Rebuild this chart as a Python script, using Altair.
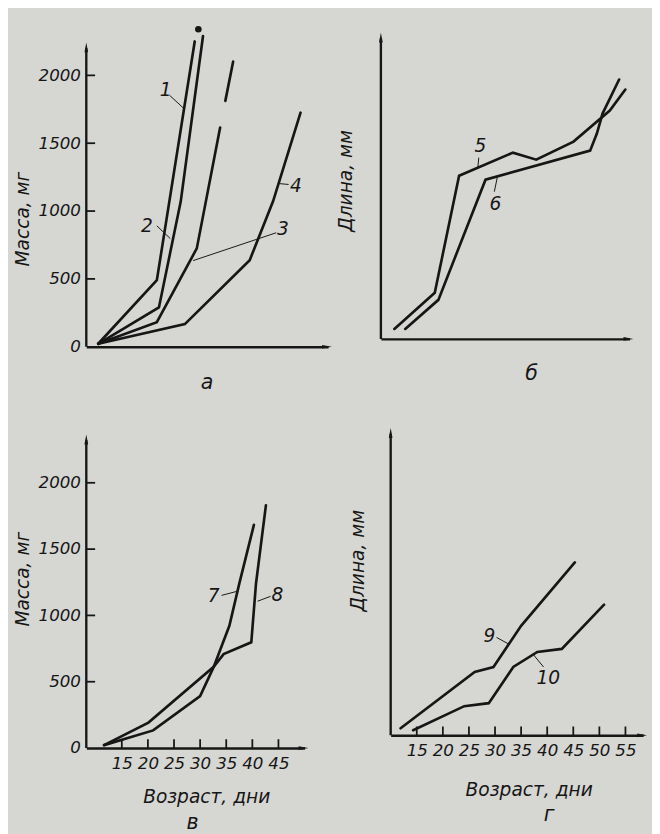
import altair as alt
import pandas as pd

INK = "#161616"
BG = "#d6d6d3"
FONT = "DejaVu Sans"

# ---------------- Panel а: масса, мг (days on X, unlabeled) ----------------
a1_x = [10.3, 21.6, 28.9]
a1_y = [22, 490, 2250]
a2_x = [10.3, 22.0, 26.2, 30.5]
a2_y = [22, 290, 1070, 2290]
a3_x = [10.3, 21.6, 29.3, 33.8]
a3_y = [22, 181, 725, 1616]
a3b_x = [34.8, 36.3]
a3b_y = [1812, 2101]
a4_x = [10.3, 27.0, 39.5, 44.0, 49.3]
a4_y = [22, 167, 638, 1072, 1725]
a_dot_x = [29.6]
a_dot_y = [2340]
a_lab_text = ["1", "2", "3", "4"]
a_lab_x = [23.3, 19.7, 45.9, 48.4]
a_lab_y = [1891, 891, 870, 1181]
a_ld_x = [24.0, 21.6, 44.6, 47.0]
a_ld_y = [1855, 891, 840, 1196]
a_ld_x2 = [26.7, 24.2, 28.6, 45.0]
a_ld_y2 = [1760, 797, 635, 1203]

# ---------------- Panel б: длина, мм ----------------
b5_x = [10.6, 18.4, 23.1, 33.5, 38.0, 45.2, 52.2, 55.2]
b5_y = [1.0, 4.6, 16.3, 18.6, 17.9, 19.7, 22.8, 24.9]
b6_x = [12.7, 19.1, 28.2, 48.4, 49.7, 50.8, 54.0]
b6_y = [1.0, 3.9, 15.9, 18.8, 20.5, 22.5, 25.9]
b_lab_text = ["5", "6"]
b_lab_x = [27.2, 30.1]
b_lab_y = [19.2, 13.5]
b_ld_x = [26.9, 29.9]
b_ld_y = [18.1, 14.7]
b_ld_x2 = [26.7, 30.5]
b_ld_y2 = [17.0, 16.2]

# ---------------- Panel в: масса, мг по возрасту ----------------
v7_x = [11.6, 21.0, 30.0, 32.6, 35.6, 37.5, 40.3]
v7_y = [22, 133, 391, 612, 922, 1240, 1683]
v8_x = [11.6, 20.1, 32.6, 34.5, 39.8, 40.7, 42.6]
v8_y = [22, 192, 612, 708, 797, 1240, 1830]
v_lab_text = ["7", "8"]
v_lab_x = [32.6, 44.8]
v_lab_y = [1144, 1151]
v_ld_x = [34.1, 43.5]
v_ld_y = [1151, 1144]
v_ld_x2 = [37.0, 41.0]
v_ld_y2 = [1181, 1107]
v_xticks = [15, 20, 25, 30, 35, 40, 45]

# ---------------- Panel г: длина, мм по возрасту ----------------
g9_x = [11.9, 26.1, 29.7, 35.0, 45.3]
g9_y = [0.7, 6.3, 6.8, 10.9, 17.2]
g10_x = [14.3, 24.1, 28.8, 33.5, 38.1, 42.8, 50.9]
g10_y = [0.5, 2.9, 3.2, 6.8, 8.3, 8.6, 13.0]
g_lab_text = ["9", "10"]
g_lab_x = [28.9, 40.2]
g_lab_y = [9.9, 5.7]
g_ld_x = [30.3, 39.3]
g_ld_y = [9.74, 6.8]
g_ld_x2 = [32.7, 37.4]
g_ld_y2 = [9.06, 8.0]
g_xticks = [15, 20, 25, 30, 35, 40, 45, 50, 55]

mass_ticks = [0, 500, 1000, 1500, 2000]
mass_inner = [500, 1000, 1500, 2000]


def series_df(series):
    rows = []
    for name, xs, ys in series:
        for i, (x, y) in enumerate(zip(xs, ys)):
            rows.append({"s": name, "i": i, "x": x, "y": y})
    return pd.DataFrame(rows)


def panel(series, lab, ld, xdom, ydom, ytop, W, H, letter, letter_dx, letter_off,
          ytitle, ytitle_pad, ytitle_y, ylabels=None, yinner=None,
          xtitle=None, xticks=None, xtitle_pad=10, xtitle_dx=0, dots=None):
    xsc = alt.Scale(domain=xdom, nice=False, zero=False)
    ysc = alt.Scale(domain=ydom, nice=False, zero=False)
    xa = dict(grid=False, ticks=False, domainColor=INK, domainWidth=2.4)
    if xticks:
        xa.update(values=xticks, labels=True, labelPadding=8, labelFontSize=17,
                  title=xtitle, titlePadding=xtitle_pad, titleFontSize=19,
                  titleX=W / 2 + xtitle_dx)
    else:
        xa.update(labels=False, title=None)
    ya = dict(grid=False, ticks=False, domain=False,
              title=ytitle, titleFontSize=19, titlePadding=ytitle_pad,
              titleY=ytitle_y)
    if ylabels:
        ya.update(values=ylabels, labels=True, labelPadding=6, labelFontSize=17,
                  format="d")
    else:
        ya.update(labels=False)
    xaxis = alt.Axis(**xa)
    yaxis = alt.Axis(**ya)
    X = lambda f="x": alt.X(f"{f}:Q", scale=xsc, axis=xaxis)
    Y = lambda f="y": alt.Y(f"{f}:Q", scale=ysc, axis=yaxis)

    lines = alt.Chart(series_df(series)).mark_line(
        color=INK, strokeWidth=2.7, strokeJoin="miter", strokeCap="round"
    ).encode(x=X(), y=Y(), detail="s:N", order="i:Q")
    layers = [lines]

    # vertical axis line with arrow
    ax = pd.DataFrame({"y": [0], "y2": [ytop]})
    layers.append(alt.Chart(ax).mark_rule(color=INK, strokeWidth=2.4).encode(
        x=alt.value(0), y=Y(), y2="y2:Q"))

    ldf = pd.DataFrame({"x": ld[0], "y": ld[1], "x2": ld[2], "y2": ld[3]})
    layers.append(alt.Chart(ldf).mark_rule(color=INK, strokeWidth=1).encode(
        x=X(), y=Y(), x2="x2:Q", y2="y2:Q"))
    tdf = pd.DataFrame({"x": lab[1], "y": lab[2], "t": lab[0]})
    layers.append(alt.Chart(tdf).mark_text(
        font=FONT, fontSize=19, fontStyle="italic", color=INK
    ).encode(x=X(), y=Y(), text="t:N"))

    if yinner:
        layers.append(alt.Chart(pd.DataFrame({"y": yinner})).mark_rule(
            color=INK, strokeWidth=1.8).encode(
            y=Y(), x=alt.value(0), x2=alt.value(9)))
    if xticks:
        layers.append(alt.Chart(pd.DataFrame({"x": xticks})).mark_rule(
            color=INK, strokeWidth=1.8).encode(
            x=X(), y=alt.value(H), y2=alt.value(H - 9)))
    if dots:
        layers.append(alt.Chart(pd.DataFrame({"x": dots[0], "y": dots[1]})).mark_point(
            filled=True, color=INK, size=45, opacity=1).encode(x=X(), y=Y()))

    layers.append(alt.Chart(pd.DataFrame({"y": [ytop]})).mark_point(
        shape="M0,-1L0.32,0.7L-0.32,0.7Z", filled=True, color=INK, size=140, opacity=1
    ).encode(x=alt.value(0), y=Y()))
    layers.append(alt.Chart(pd.DataFrame({"y": [0]})).mark_point(
        shape="M1,0L-0.7,0.32L-0.7,-0.32Z", filled=True, color=INK, size=140, opacity=1
    ).encode(x=alt.value(W - 2), y=Y()))

    return alt.layer(*layers).properties(
        width=W, height=H,
        title=alt.TitleParams(text=letter, orient="bottom", font=FONT, fontSize=21,
                              fontStyle="italic", fontWeight="normal", color=INK,
                              dx=letter_dx, offset=letter_off),
    )


pa = panel([("1", a1_x, a1_y), ("2", a2_x, a2_y), ("3", a3_x, a3_y),
            ("3b", a3b_x, a3b_y), ("4", a4_x, a4_y)],
           (a_lab_text, a_lab_x, a_lab_y), (a_ld_x, a_ld_y, a_ld_x2, a_ld_y2),
           [8, 54.6], [0, 2272], 2200, 247, 315, "а", 0, 18,
           "Масса, мг", 6, 184, ylabels=mass_ticks, yinner=mass_inner,
           dots=(a_dot_x, a_dot_y))
pb = panel([("5", b5_x, b5_y), ("6", b6_x, b6_y)],
           (b_lab_text, b_lab_x, b_lab_y), (b_ld_x, b_ld_y, b_ld_x2, b_ld_y2),
           [8, 56], [0, 30], 30, 254, 307, "б", 27, 23,
           "Длина, мм", 26, 145)
pv = panel([("7", v7_x, v7_y), ("8", v8_x, v8_y)],
           (v_lab_text, v_lab_x, v_lab_y), (v_ld_x, v_ld_y, v_ld_x2, v_ld_y2),
           [8.2, 50], [0, 2369], 2320, 223, 321, "в", -3, 6,
           "Масса, мг", 6, 148, ylabels=mass_ticks, yinner=mass_inner,
           xtitle="Возраст, дни", xticks=v_xticks, xtitle_pad=17, xtitle_dx=11)
pg = panel([("9", g9_x, g9_y), ("10", g10_x, g10_y)],
           (g_lab_text, g_lab_x, g_lab_y), (g_ld_x, g_ld_y, g_ld_x2, g_ld_y2),
           [10, 58.4], [0, 30], 30, 258, 308, "г", 33, 6,
           "Длина, мм", 24, 129,
           xtitle="Возраст, дни", xticks=g_xticks, xtitle_pad=22, xtitle_dx=12)

chart = alt.vconcat(
    alt.hconcat(pa, pb, spacing=5),
    alt.hconcat(pv, pg, spacing=41),
    spacing=36,
).properties(
    background=BG, padding={"left": 5, "top": 9, "right": 5, "bottom": 5}
).configure_view(stroke=None).configure_axis(
    labelFont=FONT, labelFontStyle="italic", labelColor=INK,
    titleFont=FONT, titleFontStyle="italic", titleFontWeight="normal", titleColor=INK,
)

chart.save("out.html", embed_options={"renderer": "svg", "actions": False})
